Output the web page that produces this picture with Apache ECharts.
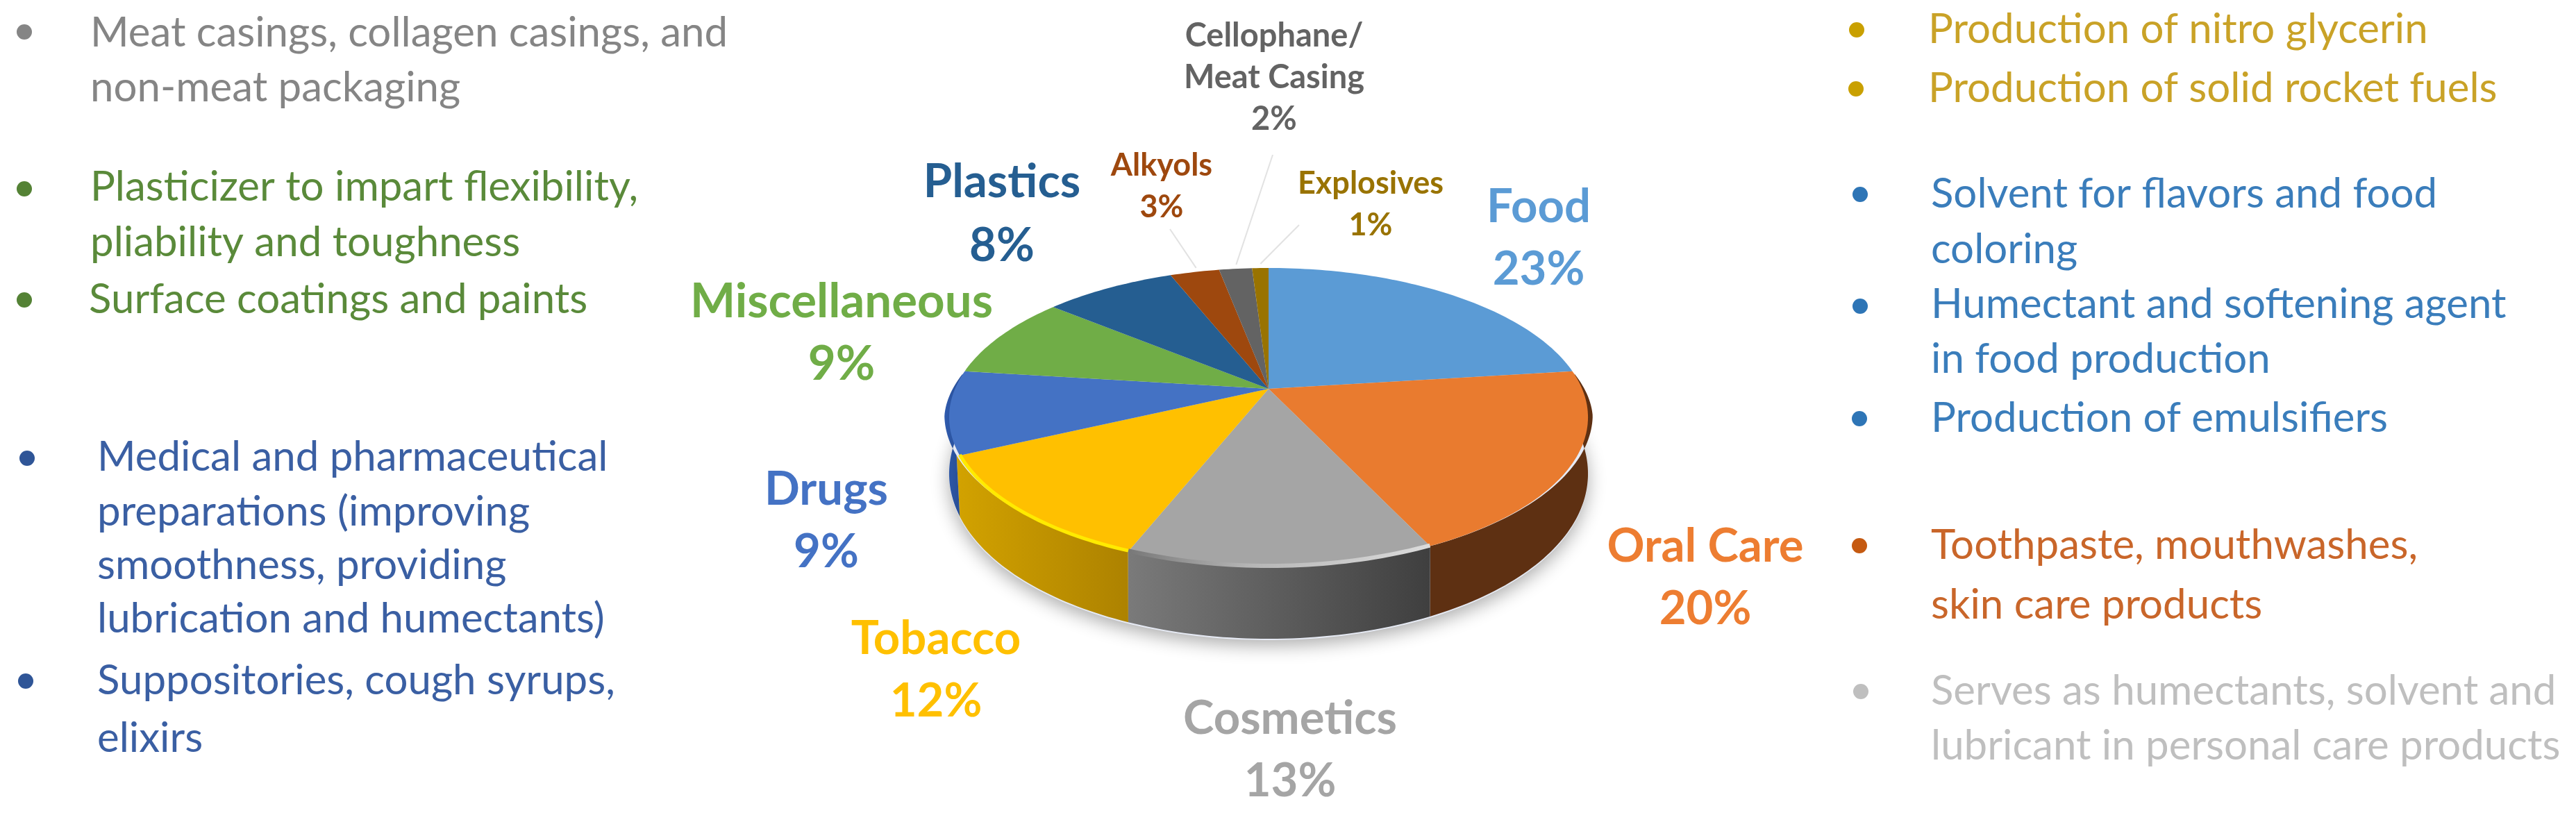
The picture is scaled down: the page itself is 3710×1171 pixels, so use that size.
<!DOCTYPE html>
<html>
<head>
<meta charset="utf-8">
<style>
  html, body { margin: 0; padding: 0; background: #fff; }
  #chart { width: 3710px; height: 1171px; }
</style>
</head>
<body>
<div id="chart"></div>
<script src="https://cdn.jsdelivr.net/npm/echarts@6/dist/echarts.min.js"></script>
<script>
  // values
  var categories = ['Food', 'Oral Care', 'Cosmetics', 'Tobacco', 'Drugs', 'Miscellaneous', 'Plastics', 'Alkyols', 'Cellophane/\nMeat Casing', 'Explosives']
  var shares = [23, 20, 13, 12, 9, 9, 8, 3, 2, 1]

  var meatNotes = ['Meat casings, collagen casings, and', 'non-meat packaging']
  var plasticNotes = ['Plasticizer to impart flexibility,', 'pliability and toughness', 'Surface coatings and paints']
  var drugNotes = ['Medical and pharmaceutical', 'preparations (improving', 'smoothness, providing', 'lubrication and humectants)', 'Suppositories, cough syrups,', 'elixirs']
  var explosiveNotes = ['Production of nitro glycerin', 'Production of solid rocket fuels']
  var foodNotes = ['Solvent for flavors and food', 'coloring', 'Humectant and softening agent', 'in food production', 'Production of emulsifiers']
  var oralNotes = ['Toothpaste, mouthwashes,', 'skin care products']
  var cosmeticNotes = ['Serves as humectants, solvent and', 'lubricant in personal care products']

  // styles, same order as categories
  var topColors = ['#5B9BD5', '#E97B2F', '#A5A5A5', '#FFC000', '#4472C4', '#70AD47', '#255E91', '#9E480E', '#636363', '#997300']
  var labelColors = ['#5B9BD5', '#ED7D31', '#A5A5A5', '#FFC000', '#4472C4', '#70AD47', '#255E91', '#9E480E', '#636363', '#997300']
  var wallColors = [
    ['#2e4d6a', '#2e4d6a'], ['#5e3012', '#5e3012'], ['#7a7a7a', '#3f3f3f'], ['#d2a200', '#ad8200'], ['#2f5bae', '#274b90'],
    ['#3d6027', '#3d6027'], ['#143350', '#143350'], ['#572808', '#572808'], ['#363636', '#363636'], ['#544000', '#544000']
  ]
  // name centre x, first line centre y, font size, line gap
  var labelLayout = [
    [2216, 298, 67, 90], [2456, 787, 67, 90], [1858, 1035, 67, 90], [1348, 920, 67, 90], [1190, 705, 67, 90],
    [1212, 435, 69, 90], [1443, 262, 67, 92], [1673, 238, 45, 60], [1835, 52, 47, 60], [1974, 264, 45, 60]
  ]
  // where a leader starts, only the three small slices have one
  var leaderStart = { 7: [1685, 330], 8: [1833, 223], 9: [1871, 324] }

  var font = 'Lato'
  var noteSize = 60

  // the disc is a tilted circle: apex is not in the middle of the ellipse
  var cx = 1827
  var cy = 560
  var A = 207.2
  var B = 451.6
  var k = 0.1907

  function project(angle, grow) {
    var u = Math.sin(angle)
    var v = -Math.cos(angle)
    var d = 1 - k * v
    return [cx + (grow || 1) * B * u / d, cy + A * v / d]
  }

  function wallHeight(angle) {
    return 76 + 28 * -Math.cos(angle)
  }

  // the wall bulges out a little past the top face near the sides
  function bulge(angle) {
    var v = -Math.cos(angle)
    return 1 + 0.018 * Math.max(0, Math.min(1, (v + 0.12) / 0.3)) * (1 - v)
  }

  function arcAngles(a0, a1) {
    var list = []
    var n = Math.max(2, Math.ceil((a1 - a0) / 0.02))
    for (var i = 0; i <= n; i++) {
      list.push(a0 + (a1 - a0) * i / n)
    }
    return list
  }

  function renderSlice(params, api) {
    var total = shares.reduce(function (s, x) { return s + x }, 0)
    var i = params.dataIndex
    var before = 0
    for (var j = 0; j < i; j++) {
      before += shares[j]
    }
    var a0 = before / total * Math.PI * 2
    var a1 = (before + api.value(0)) / total * Math.PI * 2
    var angles = arcAngles(a0, a1)
    var children = []

    // soft shadow under the whole disc
    if (i === 0) {
      var ring = arcAngles(0, Math.PI * 2).map(function (a) {
        var p = project(a)
        return [p[0], p[1] + wallHeight(a) + 2]
      })
      children.push({
        type: 'polygon',
        z2: 0,
        shape: { points: ring },
        style: { fill: '#e6eaf4', shadowBlur: 26, shadowOffsetY: 8, shadowColor: 'rgba(0,0,0,0.32)' }
      })
    }

    // side wall, only the part that can show
    var front = angles.filter(function (a) { return -Math.cos(a) > -0.12 })
    if (front.length > 1) {
      var upper = front.map(function (a) { return project(a, bulge(a)) })
      var lower = front.slice().reverse().map(function (a) {
        var p = project(a)
        return [p[0], p[1] + wallHeight(a)]
      })
      children.push({
        type: 'polygon',
        z2: 1,
        shape: { points: upper.concat(lower) },
        style: {
          fill: new echarts.graphic.LinearGradient(0, 0, 1, 0, [
            { offset: 0, color: wallColors[i][0] },
            { offset: 1, color: wallColors[i][1] }
          ])
        }
      })
    }

    // top face
    var face = [[cx, cy]].concat(angles.map(function (a) { return project(a) }))
    children.push({
      type: 'polygon',
      z2: 2,
      shape: { points: face },
      style: { fill: topColors[i] }
    })

    // bevel highlight on the two slices that have one
    if (i === 2 || i === 3) {
      children.push({
        type: 'polyline',
        z2: 3,
        shape: { points: angles.map(function (a) { var p = project(a); return [p[0], p[1] - 1] }) },
        style: {
          fill: null,
          lineWidth: i === 3 ? 5 : 6,
          stroke: i === 3 ? '#FFEA00' : new echarts.graphic.LinearGradient(1, 0, 0, 0, [
            { offset: 0, color: '#dcdcdc' },
            { offset: 0.6, color: '#b5b5b5' },
            { offset: 1, color: '#777' }
          ])
        }
      })
    }

    // label
    var layout = labelLayout[i]
    var lines = categories[i].split('\n')
    var labelFont = 'bold ' + layout[2] + 'px ' + font
    lines.concat(api.value(0) + '%').forEach(function (line, n) {
      children.push({
        type: 'text',
        z2: 5,
        style: {
          x: layout[0],
          y: layout[1] + n * layout[3],
          text: line,
          fill: labelColors[i],
          font: labelFont,
          textAlign: 'center',
          textVerticalAlign: 'middle'
        }
      })
    })

    // leader
    if (leaderStart[i]) {
      var rim = project((a0 + a1) / 2, 0.98)
      children.push({
        type: 'line',
        z2: 4,
        shape: { x1: leaderStart[i][0], y1: leaderStart[i][1], x2: rim[0], y2: rim[1] - 6 },
        style: { stroke: '#e2e2e2', lineWidth: 2 }
      })
    }

    return { type: 'group', children: children }
  }

  function noteBlock(lines, xs, ys, color) {
    return lines.map(function (line, n) {
      return {
        type: 'text',
        x: xs[n],
        y: ys[n],
        style: { text: line, fill: color, font: noteSize + 'px ' + font, verticalAlign: 'middle' }
      }
    })
  }

  function bullets(xs, ys, color) {
    return xs.map(function (x, n) {
      return { type: 'circle', shape: { cx: x, cy: ys[n], r: 11 }, style: { fill: color } }
    })
  }

  function fill(n, x) {
    var list = []
    for (var i = 0; i < n; i++) {
      list.push(x)
    }
    return list
  }

  var elements = [].concat(
    noteBlock(meatNotes, fill(2, 130), [48, 127], '#858585'),
    bullets([35], [46], '#858585'),
    noteBlock(plasticNotes, [130, 130, 128], [270, 350, 432], '#5A8A3A'),
    bullets([35, 35], [272, 432], '#548235'),
    noteBlock(drugNotes, fill(6, 140), [659, 738, 815, 892, 981, 1064], '#3A5FA3'),
    bullets([39, 37], [660, 981], '#2F5597'),
    noteBlock(explosiveNotes, fill(2, 2777), [43, 128], '#C9A227'),
    bullets([2674, 2673], [43, 128], '#C9A000'),
    noteBlock(foodNotes, fill(5, 2781), [280, 360, 439, 518, 603], '#3A7DBB'),
    bullets([2679, 2679, 2678], [280, 441, 603], '#2E75B6'),
    noteBlock(oralNotes, fill(2, 2781), [786, 872], '#C9662A'),
    bullets([2678], [786], '#C55A11'),
    noteBlock(cosmeticNotes, fill(2, 2781), [996, 1075], '#BFBFBF'),
    bullets([2680], [996], '#BFBFBF')
  )

  var chart = echarts.init(document.getElementById('chart'))
  chart.setOption({
    animation: false,
    backgroundColor: '#fff',
    graphic: { elements: elements },
    series: [{
      type: 'custom',
      coordinateSystem: 'none',
      silent: true,
      renderItem: renderSlice,
      data: shares.map(function (v) { return [v] })
    }]
  })
</script>
</body>
</html>
